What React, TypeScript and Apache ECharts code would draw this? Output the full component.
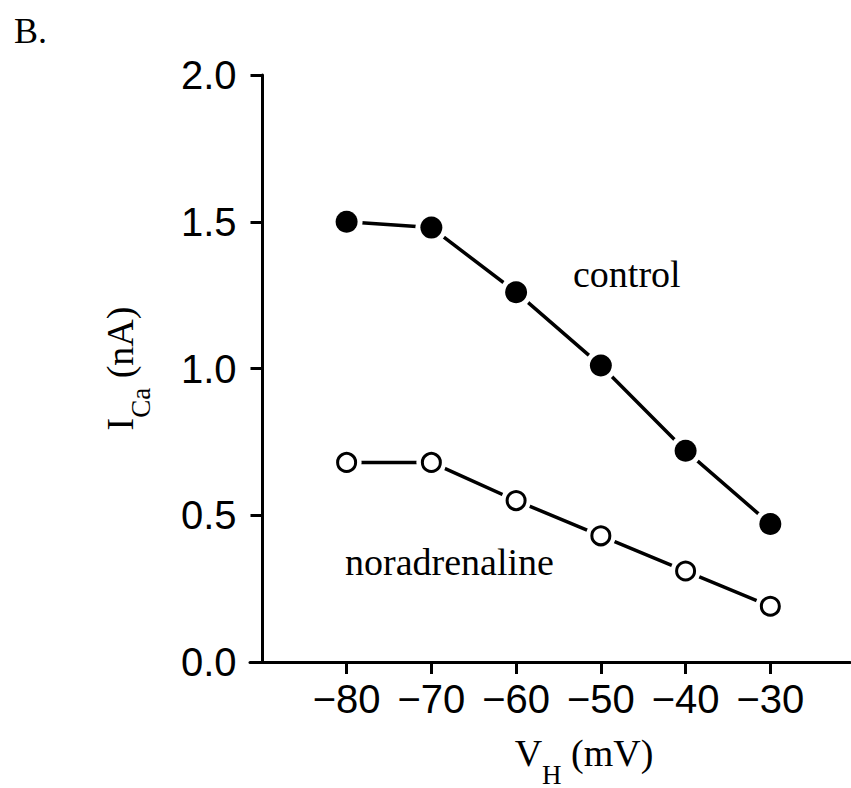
import React, { useEffect, useRef } from "react";
import * as echarts from "echarts";

// Holding potential (mV) and peak calcium current (nA)
const holdingPotentials = [-80, -70, -60, -50, -40, -30];
const controlCurrent = [1.5, 1.48, 1.26, 1.01, 0.72, 0.47];
const noradrenalineCurrent = [0.68, 0.68, 0.55, 0.43, 0.31, 0.19];

const sansFont = "'Liberation Sans Narrow', 'Liberation Sans', Arial, sans-serif";
const serifFont = "'Liberation Serif', 'Times New Roman', serif";

const pairs = (ys: number[]) => holdingPotentials.map((x, i) => [x, ys[i]]);

export default function App() {
  const ref = useRef<HTMLDivElement>(null);

  useEffect(() => {
    if (!ref.current) return;
    const chart = echarts.init(ref.current, undefined, { renderer: "svg" });

    const subRich = (main: number, sub: number) => ({
      m: { fontFamily: serifFont, fontSize: main, color: "#000", verticalAlign: "bottom", padding: [0, 0, 16, 0] },
      s: { fontFamily: serifFont, fontSize: sub, color: "#000", verticalAlign: "bottom" },
    });

    chart.setOption({
      animation: false,
      backgroundColor: "#fff",
      grid: { left: 250, right: 1, top: 75, bottom: 126, containLabel: false, outerBoundsMode: "none" },
      xAxis: {
        type: "value",
        min: -91.4,
        max: -20.6,
        name: "{m|V}{s|H}{m| (mV)}",
        nameLocation: "middle",
        nameGap: 72,
        nameTextStyle: { padding: [0, 0, 0, 68], rich: subRich(38, 27) },
        axisLine: { onZero: false, lineStyle: { color: "#000", width: 3 } },
        axisTick: { show: true, length: 12, customValues: holdingPotentials, lineStyle: { color: "#000", width: 3 } },
        axisLabel: {
          customValues: holdingPotentials,
          formatter: (v: number) => (v < 0 ? "\u2212" + Math.abs(v) : String(v)),
          fontFamily: sansFont,
          fontSize: 40,
          color: "#000",
          margin: 17,
        },
        splitLine: { show: false },
      },
      yAxis: {
        type: "value",
        min: 0,
        max: 2,
        interval: 0.5,
        offset: -12.5,
        name: "{m|I}{s|Ca}{m| (nA)}",
        nameLocation: "middle",
        nameGap: 108,
        nameTextStyle: { rich: subRich(38, 27) },
        axisLine: { show: true, onZero: false, lineStyle: { color: "#000", width: 3 } },
        axisTick: { show: true, length: 12, lineStyle: { color: "#000", width: 3 } },
        axisLabel: {
          formatter: (v: number) => v.toFixed(1),
          fontFamily: sansFont,
          fontSize: 40,
          color: "#000",
          margin: 26,
        },
        splitLine: { show: false },
      },
      graphic: [
        { type: "text", left: 14, top: 13, style: { text: "B.", fontFamily: serifFont, fontSize: 36, fill: "#000" } },
        { type: "text", left: 573, top: 255, style: { text: "control", fontFamily: serifFont, fontSize: 38, fill: "#000" } },
        { type: "text", left: 345, top: 543, style: { text: "noradrenaline", fontFamily: serifFont, fontSize: 38, fill: "#000" } },
      ],
      series: [
        {
          // connecting line; white halos leave small gaps around each point
          type: "line",
          data: pairs(controlCurrent),
          symbol: "circle",
          symbolSize: 32,
          itemStyle: { color: "#fff", opacity: 1 },
          lineStyle: { color: "#000", width: 3.5 },
          z: 2,
        },
        {
          type: "scatter",
          data: pairs(controlCurrent),
          symbol: "circle",
          symbolSize: 22,
          itemStyle: { color: "#000", opacity: 1 },
          z: 3,
        },
        {
          type: "line",
          data: pairs(noradrenalineCurrent),
          symbol: "circle",
          symbolSize: 30,
          itemStyle: { color: "#fff", opacity: 1 },
          lineStyle: { color: "#000", width: 3.5 },
          z: 2,
        },
        {
          type: "scatter",
          data: pairs(noradrenalineCurrent),
          symbol: "circle",
          symbolSize: 18,
          itemStyle: { color: "#fff", borderColor: "#000", borderWidth: 3, opacity: 1 },
          z: 3,
        },
      ],
    });

    return () => chart.dispose();
  }, []);

  return (
    <div
      ref={ref}
      style={{ position: "fixed", left: 0, top: 0, width: 851, height: 788, background: "#fff" }}
    />
  );
}
